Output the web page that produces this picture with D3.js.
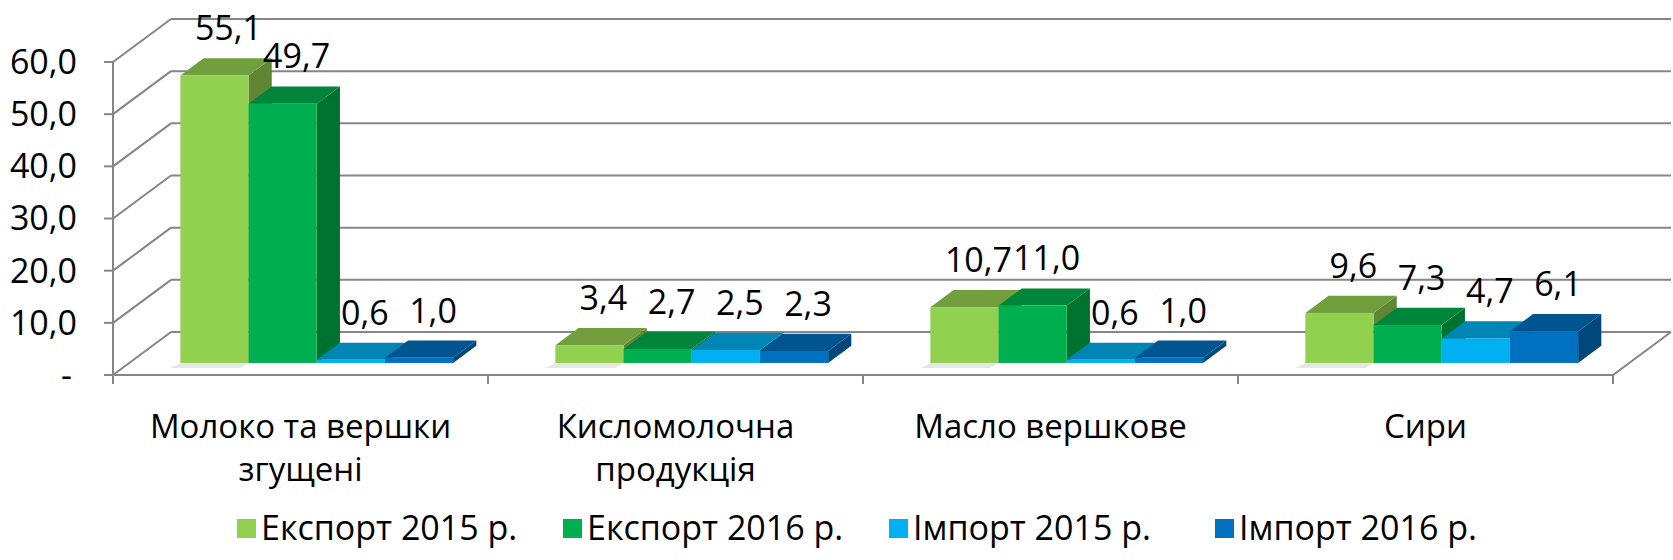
<!DOCTYPE html>
<html>
<head>
<meta charset="utf-8">
<script src="https://cdnjs.cloudflare.com/ajax/libs/d3/7.8.5/d3.min.js"></script>
<style>
  body { margin: 0; background: #fff; }
  svg text { font-family: "Open Sans", "Noto Sans", sans-serif; fill: #000; }
</style>
</head>
<body>
<div id="chart"></div>
<script>
// data
const categories = [["Молоко та вершки", "згущені"], ["Кисломолочна", "продукція"], ["Масло вершкове"], ["Сири"]];
const series = ["Експорт 2015 р.", "Експорт 2016 р.", "Імпорт 2015 р.", "Імпорт 2016 р."];
const export2015 = [55.1, 3.4, 10.7, 9.6];
const export2016 = [49.7, 2.7, 11.0, 7.3];
const import2015 = [0.6, 2.5, 0.6, 4.7];
const import2016 = [1.0, 2.3, 1.0, 6.1];
const yTicks = [0, 10, 20, 30, 40, 50, 60];

const values = [export2015, export2016, import2015, import2016];
const frontColors = ["#92D050", "#00B050", "#00B0F0", "#0070C0"];
const topColors = ["#719F3E", "#00853A", "#0085B5", "#005590"];
const sideColors = ["#5E8634", "#00722F", "#00719B", "#00487A"];

const width = 1673, height = 560;
const x0 = 113, x1 = 1613, y0 = 375;
const depthX = 58, depthY = -43;       // floor depth
const barFront = 0.28, barBack = 0.68; // bar position inside the depth
const fontSize = 34;

const svg = d3.select("#chart").append("svg")
    .attr("width", width)
    .attr("height", height);

const yScale = d3.scaleLinear().domain([0, 60]).range([y0, 62]);
const catScale = d3.scaleBand()
    .domain(d3.range(categories.length))
    .range([x0, x1]);
const serScale = d3.scaleBand()
    .domain(d3.range(series.length))
    .range([0, catScale.bandwidth()])
    .paddingInner(0)
    .paddingOuter(0.75);

const fmt = v => v.toFixed(1).replace(".", ",");
const gridColor = "#868686";

// walls
let grid = svg.append("g")
    .attr("stroke", gridColor)
    .attr("stroke-width", 2)
    .attr("fill", "none");

grid.selectAll("line.back")
    .data(yTicks)
    .join("line")
    .attr("class", "back")
    .attr("x1", x0 + depthX)
    .attr("x2", x1 + depthX)
    .attr("y1", d => yScale(d) + depthY)
    .attr("y2", d => yScale(d) + depthY);

grid.selectAll("line.side")
    .data(yTicks)
    .join("line")
    .attr("class", "side")
    .attr("x1", x0)
    .attr("x2", x0 + depthX)
    .attr("y1", d => yScale(d))
    .attr("y2", d => yScale(d) + depthY);

grid.selectAll("line.tick")
    .data(yTicks)
    .join("line")
    .attr("class", "tick")
    .attr("x1", x0 - 9)
    .attr("x2", x0)
    .attr("y1", d => yScale(d))
    .attr("y2", d => yScale(d));

grid.append("line")
    .attr("x1", x0).attr("x2", x0)
    .attr("y1", yScale(60)).attr("y2", y0);

// floor
grid.append("path")
    .attr("d", "M" + x0 + "," + y0 + "L" + x1 + "," + y0 + "L" + (x1 + depthX) + "," + (y0 + depthY));

grid.selectAll("line.cat")
    .data(d3.range(categories.length + 1))
    .join("line")
    .attr("class", "cat")
    .attr("x1", d => x0 + d * catScale.bandwidth())
    .attr("x2", d => x0 + d * catScale.bandwidth())
    .attr("y1", y0)
    .attr("y2", y0 + 9);

// y labels
svg.append("g")
    .selectAll("text")
    .data(yTicks)
    .join("text")
    .attr("x", d => d === 0 ? 72 : 77)
    .attr("y", d => yScale(d))
    .attr("dy", "0.35em")
    .attr("text-anchor", "end")
    .style("font-size", fontSize + "px")
    .text(d => d === 0 ? "-" : fmt(d));

// bars
const bw = serScale.bandwidth();
const fx = depthX * barFront, fy = depthY * barFront;
const bdx = depthX * (barBack - barFront), bdy = depthY * (barBack - barFront);
const base = y0 + fy;

let bars = svg.append("g");
let labels = [];

categories.forEach((cat, ci) => {
    let g = bars.append("g");
    // faint shadow under the first bar
    let sx = catScale(ci) + serScale(0) + fx;
    g.append("path")
        .attr("d", "M" + sx + "," + base + "L" + (sx + bw) + "," + base +
            "L" + (sx + bw - 8) + "," + (base + 5) + "L" + (sx - 10) + "," + (base + 5) + "Z")
        .attr("fill", "#e6e6e6");

    series.forEach((s, si) => {
        let v = values[si][ci];
        let bx = catScale(ci) + serScale(si) + fx;
        let h = base - (yScale(v) + fy);
        let top = base - h;

        g.append("path")
            .attr("d", "M" + (bx + bw) + "," + top + "L" + (bx + bw + bdx) + "," + (top + bdy) +
                "L" + (bx + bw + bdx) + "," + (base + bdy) + "L" + (bx + bw) + "," + base + "Z")
            .attr("fill", sideColors[si]);
        g.append("path")
            .attr("d", "M" + bx + "," + top + "L" + (bx + bdx) + "," + (top + bdy) +
                "L" + (bx + bw + bdx) + "," + (top + bdy) + "L" + (bx + bw) + "," + top + "Z")
            .attr("fill", topColors[si]);
        g.append("rect")
            .attr("x", bx)
            .attr("y", top)
            .attr("width", bw)
            .attr("height", h)
            .attr("fill", frontColors[si]);

        labels.push({x: bx + bw / 2 + 14, y: top + bdy - 18, v: v});
    });
});

// value labels
svg.append("g")
    .selectAll("text")
    .data(labels)
    .join("text")
    .attr("x", d => d.x)
    .attr("y", d => d.y)
    .attr("text-anchor", "middle")
    .style("font-size", fontSize + "px")
    .text(d => fmt(d.v));

// category labels
let catText = svg.append("g")
    .selectAll("text")
    .data(categories)
    .join("text")
    .attr("text-anchor", "middle")
    .style("font-size", "33px");

catText.selectAll("tspan")
    .data((d, i) => d.map(line => ({line: line, i: i})))
    .join("tspan")
    .attr("x", d => catScale(d.i) + catScale.bandwidth() / 2)
    .attr("y", (d, j) => 438 + j * 43)
    .text(d => d.line);

// legend
let legend = svg.append("g")
    .selectAll("g")
    .data(series)
    .join("g")
    .attr("transform", (d, i) => "translate(" + (237 + i * 326) + ",528)");

legend.append("rect")
    .attr("x", 0)
    .attr("y", -9)
    .attr("width", 19)
    .attr("height", 19)
    .attr("fill", (d, i) => frontColors[i]);

legend.append("text")
    .attr("x", 24)
    .attr("dy", "0.35em")
    .style("font-size", fontSize + "px")
    .text(d => d);
</script>
</body>
</html>
